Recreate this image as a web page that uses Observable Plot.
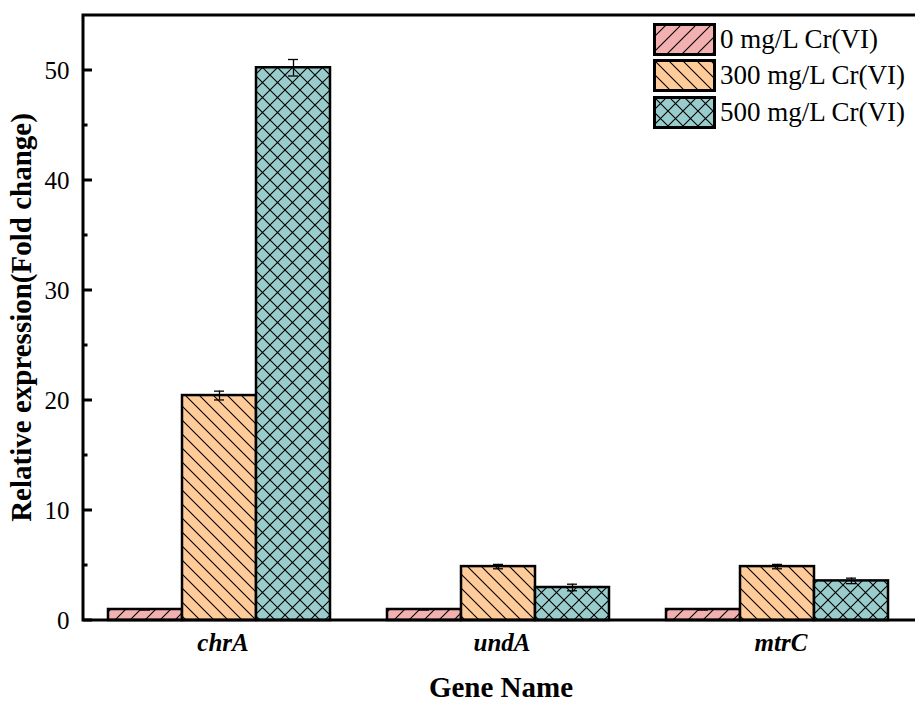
<!DOCTYPE html>
<html>
<head>
<meta charset="utf-8">
<script src="https://cdn.jsdelivr.net/npm/d3@7"></script>
<script src="https://cdn.jsdelivr.net/npm/@observablehq/plot@0.6"></script>
<style>
  html, body { margin: 0; padding: 0; background: #fff; overflow: hidden; width: 915px; height: 703px; }
  #wrap { position: relative; width: 915px; height: 703px; overflow: hidden; }
  #wrap > svg { max-width: none !important; width: 925px; height: 703px; display: block; }
  #legend { position: absolute; left: 653px; top: 21px; font-family: "Liberation Serif", "Times New Roman", serif; font-size: 27px; color: #000; }
  .lg-row { display: flex; align-items: center; height: 36.5px; }
  .lg-row svg { display: block; margin-right: 3px; }
</style>
</head>
<body>
<svg width="0" height="0" style="position:absolute">
  <defs>
    <pattern id="p0" patternUnits="userSpaceOnUse" width="15" height="15">
      <rect width="15" height="15" fill="#F2B0B0"></rect>
      <path d="M0,15L15,0M-7.5,7.5L7.5,-7.5M7.5,22.5L22.5,7.5" stroke="#000" stroke-width="1.1"></path>
    </pattern>
    <pattern id="p1" patternUnits="userSpaceOnUse" width="14" height="14">
      <rect width="14" height="14" fill="#FFCC99"></rect>
      <path d="M0,0L14,14M-7,7L7,21M7,-7L21,7" stroke="#000" stroke-width="1.1"></path>
    </pattern>
    <pattern id="p2" patternUnits="userSpaceOnUse" width="15" height="15">
      <rect width="15" height="15" fill="#99CCCC"></rect>
      <path d="M0,15L15,0M-7.5,7.5L7.5,-7.5M7.5,22.5L22.5,7.5M0,0L15,15M-7.5,7.5L7.5,22.5M7.5,-7.5L22.5,7.5" stroke="#000" stroke-width="1.1"></path>
    </pattern>
  </defs>
</svg>
<div id="wrap"><div id="legend"></div></div>
<script>
const genes = ["chrA", "undA", "mtrC"];
const series = ["0 mg/L Cr(VI)", "300 mg/L Cr(VI)", "500 mg/L Cr(VI)"];
const patterns = ["url(#p0)", "url(#p1)", "url(#p2)"];
const values0 = [1.0, 1.0, 1.0];
const values300 = [20.45, 4.9, 4.9];
const values500 = [50.25, 3.0, 3.6];
const errors0 = [0.05, 0.05, 0.05];
const errors300 = [0.4, 0.2, 0.2];
const errors500 = [0.75, 0.3, 0.25];
const yTicks = [0, 10, 20, 30, 40, 50];
const yMinorTicks = [5, 15, 25, 35, 45];

const allValues = [values0, values300, values500];
const allErrors = [errors0, errors300, errors500];
const data = [];
genes.forEach((g, gi) => series.forEach((s, si) => {
  data.push({gene: g, series: s, value: allValues[si][gi], err: allErrors[si][gi], fill: patterns[si]});
}));

const W = 925, H = 703, mL = 83, mT = 15, mB = 83, mR = 5;
const serif = '"Liberation Serif", "Times New Roman", serif';

const plot = Plot.plot({
  width: W, height: H,
  marginLeft: mL, marginTop: mT, marginBottom: mB, marginRight: mR,
  style: {fontFamily: serif, background: "transparent", overflow: "visible", maxWidth: "none"},
  fx: {domain: genes, padding: 0, axis: null, label: null},
  x: {domain: series, paddingInner: 0, paddingOuter: 0.37, align: 0.44, axis: null},
  y: {domain: [0, 55], axis: null},
  color: {type: "identity"},
  marks: [
    Plot.barY(data, {fx: "gene", x: "series", y: "value", fill: "fill", stroke: "#000", strokeWidth: 2.5}),
    Plot.ruleX(data, {fx: "gene", x: "series", y1: d => d.value - d.err, y2: d => d.value + d.err, stroke: "#000", strokeWidth: 1.3}),
    Plot.tickY(data, {fx: "gene", x: "series", y: d => d.value + d.err, stroke: "#000", strokeWidth: 1.3, insetLeft: 32, insetRight: 32}),
    Plot.tickY(data, {fx: "gene", x: "series", y: d => d.value - d.err, stroke: "#000", strokeWidth: 1.3, insetLeft: 32, insetRight: 32}),
    Plot.axisFx({domain: genes, anchor: "bottom", tickSize: 0, tickPadding: 13, fontSize: 25, fontWeight: "bold", fontStyle: "italic", label: null}),
    Plot.axisY({ticks: yTicks, anchor: "left", tickSize: 0, tickPadding: 14, fontSize: 25, label: null})
  ]
});

const svg = d3.select(plot);
const y = plot.scale("y");
const x0 = mL, x1 = W - mR, yb = H - mB, yt = mT;
// inward ticks
const g = svg.append("g").attr("stroke", "#000").attr("stroke-width", 3);
yTicks.forEach(v => g.append("line").attr("x1", x0).attr("x2", x0 + 9).attr("y1", y.apply(v)).attr("y2", y.apply(v)));
yMinorTicks.forEach(v => g.append("line").attr("x1", x0).attr("x2", x0 + 4.5).attr("y1", y.apply(v)).attr("y2", y.apply(v)));
// frame
svg.append("rect").attr("x", x0).attr("y", yt).attr("width", x1 - x0).attr("height", yb - yt)
  .attr("fill", "none").attr("stroke", "#000").attr("stroke-width", 3);
// axis titles
svg.append("text").attr("transform", `translate(31,${(yt + yb) / 2}) rotate(-90)`)
  .attr("text-anchor", "middle").attr("font-family", serif).attr("font-size", 29).attr("font-weight", "bold")
  .text("Relative expression(Fold change)");
svg.append("text").attr("x", 501).attr("y", 697)
  .attr("text-anchor", "middle").attr("font-family", serif).attr("font-size", 29).attr("font-weight", "bold")
  .text("Gene Name");

document.getElementById("wrap").prepend(plot);

// legend
const lg = d3.select("#legend");
series.forEach((s, i) => {
  const row = lg.append("div").attr("class", "lg-row");
  const sw = row.append("svg").attr("width", 64).attr("height", 33);
  sw.append("rect").attr("x", 1.5).attr("y", 1.5).attr("width", 60).attr("height", 30)
    .attr("fill", patterns[i]).attr("stroke", "#000").attr("stroke-width", 3);
  row.append("span").text(s);
});
</script>
</body>
</html>
